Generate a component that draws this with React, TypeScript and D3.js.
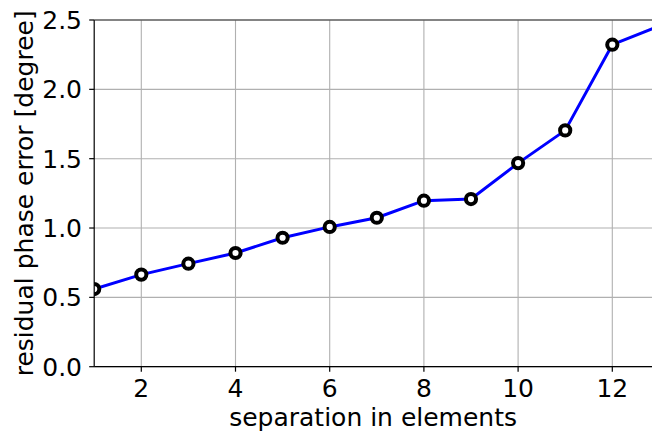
import React from "react";
import * as d3 from "d3";

const separations = [1, 2, 3, 4, 5, 6, 7, 8, 9, 10, 11, 12, 13];
const phaseErrors = [0.56, 0.664, 0.743, 0.82, 0.93, 1.008, 1.074, 1.197, 1.209, 1.468, 1.704, 2.322, 2.458];
const xTicks = [2, 4, 6, 8, 10, 12];
const yTicks = [0, 0.5, 1.0, 1.5, 2.0, 2.5];

const W = 652;
const H = 436;
const left = 94.2;
const top = 20;
const bottom = 366.7;
const FONT = "'DejaVu Sans', sans-serif";
const FS = 25;

export default function App() {
  const x = d3.scaleLinear().domain([1, 13]).range([left, left + 12 * 47.1]);
  const y = d3.scaleLinear().domain([0, 2.5]).range([bottom, top]);
  const right = W;
  const line = d3
    .line<number>()
    .x((_, i) => x(separations[i]))
    .y((d) => y(d));

  return (
    <svg
      width={W}
      height={H}
      style={{ position: "fixed", left: 0, top: 0, background: "#fff" }}
      fontFamily={FONT}
    >
      <defs>
        <clipPath id="plot">
          <rect x={left} y={top} width={right - left} height={bottom - top} />
        </clipPath>
      </defs>
      <rect x={0} y={0} width={W} height={H} fill="#fff" />
      {/* grid */}
      {xTicks.map((t) => (
        <line key={"gx" + t} x1={x(t)} x2={x(t)} y1={top} y2={bottom} stroke="#b0b0b0" strokeWidth={1.1} />
      ))}
      {yTicks.map((t) => (
        <line key={"gy" + t} x1={left} x2={right} y1={y(t)} y2={y(t)} stroke="#b0b0b0" strokeWidth={1.1} />
      ))}
      {/* data */}
      <g clipPath="url(#plot)">
        <path d={line(phaseErrors) || ""} fill="none" stroke="#0000ff" strokeWidth={3} strokeLinejoin="round" />
        {phaseErrors.map((v, i) => (
          <circle key={i} cx={x(separations[i])} cy={y(v)} r={5.1} fill="#fff" stroke="#000" strokeWidth={4} />
        ))}
      </g>
      {/* spines */}
      <line x1={left} x2={left} y1={top} y2={bottom} stroke="#000" strokeWidth={1.2} />
      <line x1={left} x2={right} y1={bottom} y2={bottom} stroke="#000" strokeWidth={1.2} />
      <line x1={left} x2={right} y1={top} y2={top} stroke="#333" strokeWidth={1.2} />
      {/* x ticks */}
      {xTicks.map((t) => (
        <g key={"xt" + t}>
          <line x1={x(t)} x2={x(t)} y1={bottom} y2={bottom + 5} stroke="#000" strokeWidth={1.2} />
          <text x={x(t)} y={397} textAnchor="middle" fontSize={FS} fill="#000">
            {String(t)}
          </text>
        </g>
      ))}
      {/* y ticks */}
      {yTicks.map((t) => (
        <g key={"yt" + t}>
          <line x1={left - 5} x2={left} y1={y(t)} y2={y(t)} stroke="#000" strokeWidth={1.2} />
          <text x={82} y={y(t)} dy="0.36em" textAnchor="end" fontSize={FS} fill="#000">
            {t.toFixed(1)}
          </text>
        </g>
      ))}
      <text x={(left + right) / 2} y={426} textAnchor="middle" fontSize={FS} fill="#000">
        separation in elements
      </text>
      <text
        transform={`translate(33, ${(top + bottom) / 2}) rotate(-90)`}
        textAnchor="middle"
        fontSize={FS}
        fill="#000"
      >
        residual phase error [degree]
      </text>
    </svg>
  );
}
